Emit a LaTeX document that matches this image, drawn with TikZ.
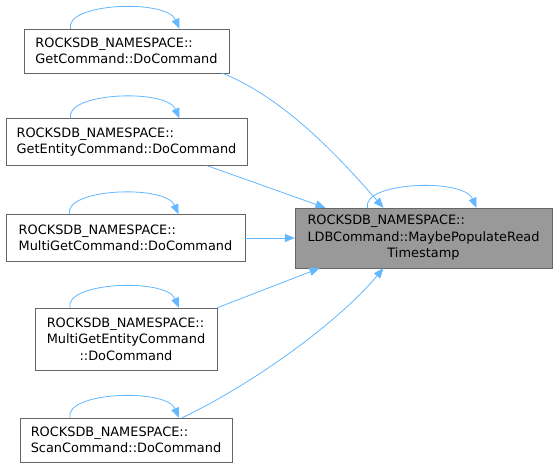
\documentclass[tikz,border=0pt]{standalone}
\usepackage{fontspec}
\setmainfont{DejaVu Sans}
\usepackage{calc}
\usepackage{tikz}
\usetikzlibrary{arrows.meta,calc,positioning}
\definecolor{edgeblue}{HTML}{63B8FF}
\definecolor{boxline}{HTML}{666666}
\definecolor{mainfill}{HTML}{999999}

\begin{document}
\begin{tikzpicture}[x=1pt,y=-1pt,
    fnbox/.style={draw=boxline,fill=white,inner sep=0pt,align=center,
      font=\fontsize{12.9}{16.5}\selectfont},
    mainbox/.style={fnbox,fill=mainfill},
    calledge/.style={draw=edgeblue,line width=0.8pt,-{Triangle[length=10pt,width=8pt]}}]
        \useasboundingbox[fill=white] (0,0) rectangle (557,469);
        % callers
        \node[fnbox,minimum width=205,minimum height=44,align=left] (get) at (126.5,51) {ROCKSDB\_NAMESPACE::\\GetCommand::DoCommand};
        \node[fnbox,minimum width=241,minimum height=47,align=left] (getent) at (126.5,142) {ROCKSDB\_NAMESPACE::\\GetEntityCommand::DoCommand};
        \node[fnbox,minimum width=239,minimum height=47,align=left] (multiget) at (125.5,238) {ROCKSDB\_NAMESPACE::\\MultiGetCommand::DoCommand};
        \node[fnbox,minimum width=182,minimum height=62] (multigetent) at (126,339) {\makebox[\widthof{MultiGetEntityCommand}][l]{ROCKSDB\_NAMESPACE::}\\MultiGetEntityCommand\\::DoCommand};
        \node[fnbox,minimum width=212,minimum height=44,align=left] (scan) at (126,440) {ROCKSDB\_NAMESPACE::\\ScanCommand::DoCommand};
        % callee
        \node[mainbox,minimum width=257,minimum height=60] (ts) at (423.5,238) {\makebox[\widthof{LDBCommand::MaybePopulateRead}][l]{ROCKSDB\_NAMESPACE::}\\LDBCommand::MaybePopulateRead\\Timestamp};
        % self loops
        \foreach \n in {get,getent,multiget,multigetent,scan,ts}{
          \draw[calledge] ($(\n.north)+(-56,0)$) .. controls ($(\n.north)+(-62,-26)$) and ($(\n.north)+(40,-30)$) .. ($(\n.north)+(53,0)$);
        }
        % calls
        \draw[calledge] ($(get.south east)+(-7,0)$) .. controls (290,100) and (350,170) .. ($(ts.north)+(-40,0)$);
        \draw[calledge] ($(getent.south east)+(-40,0)$) -- ($(ts.north)+(-98,0)$);
        \draw[calledge] (multiget.east) -- (ts.west);
        \draw[calledge] (multigetent.north east) -- ($(ts.south)+(-104,0)$);
        \draw[calledge] ($(scan.north east)+(-50,0)$) .. controls (260,380) and (340,320) .. ($(ts.south)+(-40,0)$);
\end{tikzpicture}
\end{document}
